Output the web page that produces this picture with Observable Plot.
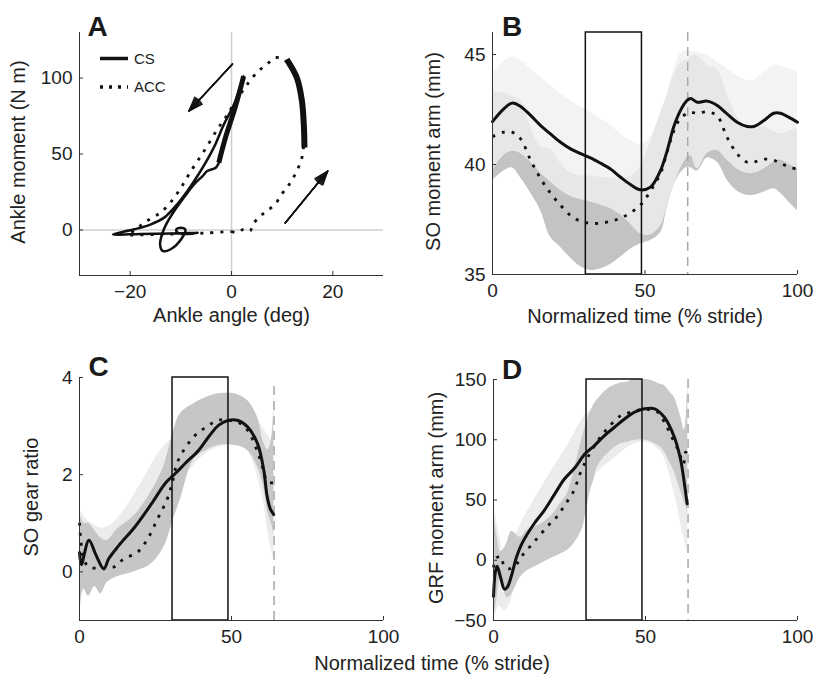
<!DOCTYPE html>
<html><head><meta charset="utf-8">
<script src="https://cdn.jsdelivr.net/npm/d3@7"></script>
<script src="https://cdn.jsdelivr.net/npm/@observablehq/plot@0.6"></script>
<style>
body{margin:0;background:#fff;}
#wrap{position:relative;width:816px;height:681px;overflow:hidden;background:#fff;font-family:"Liberation Sans",Arial,Helvetica,sans-serif;}
#wrap svg{position:absolute;}
</style></head><body><div id="wrap"></div>
<script>
// ---------- Panel A: ankle angle (deg) vs ankle moment (N m) ----------
const aCSAngle  = [-6.7,-8.8,-10.6,-10.9,-10,-9.1,-9.7,-12,-13.6,-14.1,-13.6,-12.9,-11.3,-9.4,-7.4,-5.7,-4.8,-3.1,-2.5,-1.2,0.5,1.8,2.4,0.5,-1.5,-3.5,-6.1,-8.7,-11.3,-13.3,-15.9,-19.2,-23.4,-18,-12,-6.7];
const aCSMoment = [-1.8,-2.6,-1.8,0.3,1.5,0.2,-5,-12.7,-13.8,-9.4,-1.8,3.7,12.5,21.3,30,35.5,38.8,41,44.3,60.7,78.3,93.6,101.3,82.7,69.5,54.2,38.8,25.7,14.7,8.1,3.7,0.4,-2.9,-2.6,-2.3,-1.8];
const aCSThickAngle  = [-2.5,-1.2,0.5,1.8,2.4];
const aCSThickMoment = [44.3,60.7,78.3,93.6,101.3];
const aACCAngle  = [0,1.1,2.4,3.7,4.1,5.7,7,8.6,9.9,11.2,12.2,13.2,13.9,14.2,14.3,13.9,13.2,11.9,10.3,8.6,7.3,5.7,4.1,2.3,0.3,-1.2,-2.8,-5.4,-8,-10.6,-13.6,-17.2,-19.8,-20.5,-15,-10,-5,0];
const aACCMoment = [-1,-1.8,0.4,-0.7,3,9.2,12.5,16.9,23.5,29,34.4,41,47.6,54.2,67.3,80.5,95.8,106.8,112.3,113.4,110,105.7,100.2,92,82,73.9,66.2,52,38.8,24.6,12.5,4.8,-1.8,-3,-3,-2.6,-2,-1];
const aACCThickAngle  = [14.4,14.3,13.9,12.9,10.9];
const aACCThickMoment = [54.2,67.3,84.9,100.2,112.3];
const aArrowX1 = [0.2, 10.6], aArrowY1 = [109.2, 4.6];
const aArrowX2 = [-8.4, 19.0], aArrowY2 = [78.3, 38.8];
const aZero = [0];
const aXTicks = [-20, 0, 20], aYTicks = [0, 50, 100];

// ---------- Panel B: SO moment arm (mm) ----------
const bT = [0,3.7,6.4,9.2,12.5,15.8,19,22.3,25.6,28.9,32.1,35.4,38.7,42,45.2,48.5,51.8,55.1,57.3,59.4,61.6,63.8,65,67.1,70.4,73.7,76.9,80.2,83.5,85.7,89,92.2,94.4,97.1,100];
const bCSMean  = [41.95,42.53,42.79,42.64,42.23,41.77,41.39,41.01,40.71,40.49,40.30,40.06,39.80,39.42,39.09,38.85,38.97,39.73,40.64,41.70,42.45,42.91,43.0,42.83,42.88,42.68,42.30,41.92,41.73,41.73,42.0,42.33,42.33,42.15,41.92];
const bCSUpper = [44.12,44.65,44.88,44.73,44.35,43.97,43.59,43.21,42.91,42.6,42.38,42.08,41.77,41.39,41.09,40.9,41.24,42.3,43.2,44.3,45.03,45.18,45.15,45.11,44.95,44.65,44.35,44.05,43.82,43.82,44.2,44.5,44.45,44.35,44.2];
const bCSLower = [39.73,40.4,40.6,40.5,40.1,39.6,39.2,38.82,38.55,38.4,38.3,38.15,37.99,37.7,37.3,36.85,36.8,37.2,38.1,38.97,39.8,40.3,40.4,39.8,40.5,40.64,40.2,39.8,39.6,39.6,39.8,40.1,40.2,40.0,39.8];
const bACCMean  = [41.27,41.47,41.47,41.17,40.2,39.35,38.7,38.15,37.68,37.42,37.33,37.33,37.42,37.56,37.8,38.15,38.8,39.6,40.6,41.5,42.1,42.32,42.38,42.32,42.4,42.2,41.24,40.49,40.1,40.11,40.24,40.2,40.05,39.9,39.78];
const bACCLower = [39.27,39.7,39.85,39.4,38.7,37.9,36.7,36.24,35.75,35.35,35.18,35.25,35.45,35.79,36.15,36.4,36.55,36.9,38.06,39.0,39.6,39.88,39.85,39.7,40.3,40.1,39.3,38.8,38.6,38.6,38.75,38.9,38.7,38.3,37.9];
const bACCUpper = [43.27,43.24,43.09,42.94,41.7,40.8,40.7,40.06,39.61,39.49,39.48,39.41,39.39,39.33,39.45,39.9,41.05,42.3,43.14,44.0,44.6,44.76,44.9,44.94,44.5,44.3,43.18,42.18,41.6,41.62,41.73,41.5,41.4,41.5,41.66];
const bXTicks = [0, 50, 100], bYTicks = [35, 40, 45];

// ---------- Panel C: SO gear ratio ----------
const cCST  = [0,0.6,3.1,5.4,8,9.6,12.9,18.4,23.9,28.3,31.6,34.9,39.3,42.5,45.8,49.1,51.9,55.2,58.5,60.6,61.7,62.8,63.9];
const cCS   = [0.4,0.15,0.65,0.35,0.06,0.27,0.54,0.94,1.42,1.83,2.03,2.24,2.51,2.78,3.02,3.12,3.12,2.99,2.65,2.1,1.56,1.29,1.18];
const cACCT = [0,0.5,1.5,3.1,6.8,11.3,14.6,19,22.3,25.6,28.8,30.5,32.1,35.4,38.7,42,45.3,48.6,51.9,55.2,58.5,60.6,61.7,63.9];
const cACC  = [1.01,0.6,0.25,0.1,0.08,0.1,0.27,0.4,0.67,1.08,1.49,1.83,2.24,2.61,2.85,2.99,3.12,3.12,3.09,2.92,2.48,2.07,1.86,1.83];
const cBandT     = [0,1.4,3,5,7,9.1,12.4,17.9,23.4,27.7,31,33.2,37.6,42,46.4,50.7,55.2,58.5,60.6,62,63.4,63.9];
const cACCUpper  = [1.22,1.0,1.0,0.85,0.7,0.65,0.88,1.15,1.63,2.17,2.92,3.26,3.46,3.6,3.67,3.67,3.53,3.19,2.65,2.51,2.85,3.8];
const cACCLower  = [-1,-0.35,-0.5,-0.3,-0.45,-0.22,-0.1,0,0.15,0.5,1.1,1.49,2.31,2.51,2.61,2.61,2.51,2.17,1.75,1.2,0.94,0.74];
const cCSBandT   = [0,2,4,7,10,15,20,25,28.8,32,35,40,45,50,55,60,62,64];
const cCSUpper   = [1.3,1.1,1.0,0.9,0.95,1.3,1.8,2.35,2.65,2.8,3.0,3.3,3.5,3.55,3.45,3.0,2.8,2.6];
const cCSLower   = [-0.6,-0.2,0.2,-0.3,-0.05,0.35,0.8,1.3,1.55,1.75,2.0,2.35,2.55,2.6,2.5,1.6,0.8,0.2];
const cXTicks = [0, 50, 100], cYTicks = [0, 2, 4];

// ---------- Panel D: GRF moment arm (mm) ----------
const dCST  = [0,0.6,1.2,2.3,3.6,4.6,6,7.5,9.3,13.4,16.6,19.9,23.2,26.9,30.1,33.2,36.5,39.8,43.2,46.4,49.7,53,56.2,59.5,61.6,62.8,63.7];
const dCS   = [-30,-10,-5,-14,-24,-22,-12,2,13.6,30.5,41,54,67,77.2,88.3,95.2,103.5,110.4,117.4,122.9,125.7,125.7,118.7,102.1,82.8,63.4,46.8];
const dACCT = [0,1,2.5,3.5,5.5,8,9.9,12.6,15.3,18.1,20.8,23.5,26.3,28.5,30.3,32,34.8,37,41.9,45.2,48.5,51,54,56.2,58.4,60.5,61.6,62.5,63.2,63.9];
const dACC  = [-6,2,3,-5,-7,-2,5.4,13,21,29,36,46,57,72,82,90,101,108,120.1,122.9,124.9,125,122.9,114.6,103.5,92.5,85.5,80,89.7,88];
const dBandT    = [0,1.2,2.3,3.5,4.5,6,8.9,11,14.8,18.7,22,24.2,26.5,29.2,30.8,31.9,33.2,34.1,37.5,41.8,44.2,46.1,50.6,54.9,56.2,58.2,59.5,61.5,62.8,63.4,63.9];
const dACCUpper = [40,20,7,10,15,24,19,25,29,36,47,55,74.5,102,116,123,129.8,133,142,147,148,150,150,146,145,139,135,120,108,120,149];
const dACCLower = [-50,-31,-14,-25,-31,-28,-14,-9,-4,1.2,5,8.1,14,26,45,57.9,68,77.2,88.3,96.6,98,99.4,99.4,93.8,90,80,73,57.9,48,44,38.5];
const dCSBandT  = [0,2,3.5,5,8,10,15,20,25,28,30,35,40,45,50,55,60,62,63.9];
const dCSUpper  = [48,20,5,10,25,35,57,78,98,112,120,130,138,142,140,135,118,105,95];
const dCSLower  = [-50,-38,-42,-38,-15,-5,10,25,45,52,60,75,85,95,98,90,50,25,5];
const dXTicks = [0, 50, 100], dYTicks = [-50, 0, 50, 100, 150];

// shared: 30-50% stride window box and toe-off line
const boxStart = [30.6], boxEnd = [49];
const toeOff = [64];

// ---------- helpers ----------
const FONT = '"Liberation Sans", Arial, Helvetica, sans-serif';
const fmt = d => d < 0 ? "\u2212" + Math.abs(d) : String(d);
const zip = (xs, ys) => xs.map((x, i) => ({x, y: ys[i]}));
const band = (ts, lo, hi) => ts.map((t, i) => ({t, lo: lo[i], hi: hi[i]}));
const AX = "#333";

function axes(xd, yd, xt, yt, fw, fh) {
  return [
    Plot.ruleX([xd[0]], {stroke: AX, strokeWidth: 1}),
    Plot.ruleY([yd[0]], {stroke: AX, strokeWidth: 1}),
    Plot.tickX(xt, {x: d => d, stroke: AX, insetTop: fh - 4}),
    Plot.tickY(yt, {y: d => d, stroke: AX, insetRight: fw - 4})
  ];
}
function labels(ylab, ydx, xlab, xdy, letter, ldx, ldy) {
  const m = [
    Plot.text([ylab], {text: d => d, frameAnchor: "left", textAnchor: "middle", rotate: -90, dx: ydx, dy: -2, lineAnchor: "middle", fontSize: 20, fill: "#222"}),
    Plot.text([letter], {text: d => d, frameAnchor: "top-left", textAnchor: "start", lineAnchor: "bottom", dx: ldx, dy: ldy, fontSize: 28, fontWeight: "bold", fill: "#1a1a1a"})
  ];
  if (xlab) m.push(Plot.text([xlab], {text: d => d, frameAnchor: "bottom", textAnchor: "middle", lineAnchor: "middle", dy: xdy, fontSize: 20, fill: "#222"}));
  return m;
}
function base(w, h, ml, mr, mt, mb, xd, yd, xt, yt) {
  return {
    width: w, height: h, marginLeft: ml, marginRight: mr, marginTop: mt, marginBottom: mb,
    x: {domain: xd, ticks: xt, tickSize: 0, tickPadding: 9, tickFormat: fmt, label: null},
    y: {domain: yd, ticks: yt, tickSize: 0, tickPadding: 7, tickFormat: fmt, label: null},
    style: {fontFamily: FONT, fontSize: "19px", color: "#222", background: "transparent", overflow: "visible"}
  };
}
const wrap = document.getElementById("wrap");
function place(el, left, top) { el.style.left = left + "px"; el.style.top = top + "px"; wrap.appendChild(el); }

const solid = {stroke: "#111", strokeWidth: 3, curve: "catmull-rom"};
const dotted = {stroke: "#111", strokeWidth: 2.8, strokeDasharray: "3,7", strokeLinecap: "butt", curve: "catmull-rom"};
const headAngles = [40, 30, 20, 10];

// ---------- Panel A ----------
{
  const xd = [-30, 30], yd = [-30, 130];
  const W = 408, H = 340, ml = 79, mr = 25, mt = 32, mb = 65;
  const fw = W - ml - mr, fh = H - mt - mb;
  const idx = aArrowX1.map((v, i) => i);
  const svg = Plot.plot({...base(W, H, ml, mr, mt, mb, xd, yd, aXTicks, aYTicks),
    marks: [
      Plot.ruleX(aZero, {x: d => d, stroke: "#cfcfcf", strokeWidth: 1.5}),
      Plot.ruleY(aZero, {y: d => d, stroke: "#cfcfcf", strokeWidth: 1.5}),
      Plot.line(zip(aACCAngle, aACCMoment), {x: "x", y: "y", ...dotted}),
      Plot.line(zip(aCSAngle, aCSMoment), {x: "x", y: "y", ...solid, strokeWidth: 2.5}),
      Plot.line(zip(aACCThickAngle, aACCThickMoment), {x: "x", y: "y", stroke: "#111", strokeWidth: 6, curve: "catmull-rom", strokeLinecap: "butt"}),
      Plot.line(zip(aCSThickAngle, aCSThickMoment), {x: "x", y: "y", stroke: "#111", strokeWidth: 5, curve: "catmull-rom", strokeLinecap: "butt"}),
      ...headAngles.map(ha => Plot.arrow(idx, {x1: i => aArrowX1[i], y1: i => aArrowY1[i], x2: i => aArrowX2[i], y2: i => aArrowY2[i], stroke: "#111", strokeWidth: 1.4, headLength: 16, headAngle: ha})),
      ...axes(xd, yd, aXTicks, aYTicks, fw, fh),
      ...labels("Ankle moment (N m)", -61, "Ankle angle (deg)", 40, "A", 8, 3)
    ]});
  place(svg, 0, 0);
}

// ---------- Panel B ----------
{
  const xd = [0, 100], yd = [35, 46];
  const W = 408, H = 340, ml = 84, mr = 19, mt = 32, mb = 66;
  const fw = W - ml - mr, fh = H - mt - mb;
  const svg = Plot.plot({...base(W, H, ml, mr, mt, mb, xd, yd, bXTicks, bYTicks),
    marks: [
      Plot.areaY(band(bT, bACCLower, bACCUpper), {x: "t", y1: "lo", y2: "hi", fill: "#c3c3c3", curve: "catmull-rom", clip: true}),
      Plot.areaY(band(bT, bCSLower, bCSUpper), {x: "t", y1: "lo", y2: "hi", fill: "#f0f0f0", fillOpacity: 0.8, curve: "catmull-rom", clip: true}),
      Plot.ruleX(toeOff, {x: d => d, stroke: "#a8a8a8", strokeWidth: 1.5, strokeDasharray: "9,6"}),
      Plot.line(zip(bT, bACCMean), {x: "x", y: "y", ...dotted}),
      Plot.line(zip(bT, bCSMean), {x: "x", y: "y", ...solid}),
      Plot.rect(boxStart.map((v, i) => i), {x1: i => boxStart[i], x2: i => boxEnd[i], y1: () => yd[0], y2: () => yd[1], fill: "none", stroke: "#111", strokeWidth: 1.5}),
      ...axes(xd, yd, bXTicks, bYTicks, fw, fh),
      ...labels("SO moment arm (mm)", -59, "Normalized time (% stride)", 42, "B", 9.5, 3)
    ]});
  place(svg, 408, 0);
}

// ---------- Panel C ----------
{
  const xd = [0, 100], yd = [-1, 4];
  const W = 408, H = 341, ml = 79, mr = 25, mt = 37, mb = 61;
  const fw = W - ml - mr, fh = H - mt - mb;
  const svg = Plot.plot({...base(W, H, ml, mr, mt, mb, xd, yd, cXTicks, cYTicks),
    marks: [
      Plot.areaY(band(cCSBandT, cCSLower, cCSUpper), {x: "t", y1: "lo", y2: "hi", fill: "#ececec", curve: "catmull-rom", clip: true}),
      Plot.areaY(band(cBandT, cACCLower, cACCUpper), {x: "t", y1: "lo", y2: "hi", fill: "#c6c6c6", curve: "catmull-rom", clip: true}),
      Plot.ruleX(toeOff, {x: d => d, y1: () => yd[0], y2: () => 3.85, stroke: "#a8a8a8", strokeWidth: 1.5, strokeDasharray: "9,6"}),
      Plot.line(zip(cACCT, cACC), {x: "x", y: "y", ...dotted}),
      Plot.line(zip(cCST, cCS), {x: "x", y: "y", ...solid}),
      Plot.rect(boxStart.map((v, i) => i), {x1: i => boxStart[i], x2: i => boxEnd[i], y1: () => yd[0], y2: () => yd[1], fill: "none", stroke: "#111", strokeWidth: 1.5}),
      ...axes(xd, yd, cXTicks, cYTicks, fw, fh),
      ...labels("SO gear ratio", -48, null, 0, "C", 9, -2)
    ]});
  place(svg, 0, 340);
}

// ---------- Panel D ----------
{
  const xd = [0, 100], yd = [-50, 150];
  const W = 408, H = 341, ml = 85, mr = 19, mt = 39, mb = 61;
  const fw = W - ml - mr, fh = H - mt - mb;
  const svg = Plot.plot({...base(W, H, ml, mr, mt, mb, xd, yd, dXTicks, dYTicks),
    marks: [
      Plot.areaY(band(dCSBandT, dCSLower, dCSUpper), {x: "t", y1: "lo", y2: "hi", fill: "#ececec", curve: "catmull-rom", clip: true}),
      Plot.areaY(band(dBandT, dACCLower, dACCUpper), {x: "t", y1: "lo", y2: "hi", fill: "#c9c9c9", curve: "catmull-rom", clip: true}),
      Plot.ruleX(toeOff, {x: d => d, stroke: "#a8a8a8", strokeWidth: 1.5, strokeDasharray: "9,6"}),
      Plot.line(zip(dACCT, dACC), {x: "x", y: "y", ...dotted}),
      Plot.line(zip(dCST, dCS), {x: "x", y: "y", ...solid}),
      Plot.rect(boxStart.map((v, i) => i), {x1: i => boxStart[i], x2: i => boxEnd[i], y1: () => yd[0], y2: () => yd[1], fill: "none", stroke: "#111", strokeWidth: 1.5}),
      ...axes(xd, yd, dXTicks, dYTicks, fw, fh),
      ...labels("GRF moment arm (mm)", -57, null, 0, "D", 8.5, -1)
    ]});
  place(svg, 408, 340);
}

// ---------- overlay: legend of panel A and shared x label ----------
{
  const ns = "http://www.w3.org/2000/svg";
  const svg = document.createElementNS(ns, "svg");
  svg.setAttribute("width", 816); svg.setAttribute("height", 681);
  svg.style.left = "0px"; svg.style.top = "0px"; svg.style.pointerEvents = "none";
  const add = (tag, attrs, txt) => { const e = document.createElementNS(ns, tag); for (const k in attrs) e.setAttribute(k, attrs[k]); if (txt) e.textContent = txt; svg.appendChild(e); return e; };
  const legend = [{name: "CS", dash: null, y: 58.5}, {name: "ACC", dash: "3,6", y: 87}];
  for (const l of legend) {
    const a = {x1: 100, x2: 128, y1: l.y, y2: l.y, stroke: "#111", "stroke-width": 3.5};
    if (l.dash) a["stroke-dasharray"] = l.dash;
    add("line", a);
    add("text", {x: 134, y: l.y + 5.3, "font-size": 15, fill: "#222", "font-family": FONT}, l.name);
  }
  add("text", {x: 432, y: 670, "font-size": 20, fill: "#222", "text-anchor": "middle", "font-family": FONT}, "Normalized time (% stride)");
  wrap.appendChild(svg);
}
</script></body></html>
